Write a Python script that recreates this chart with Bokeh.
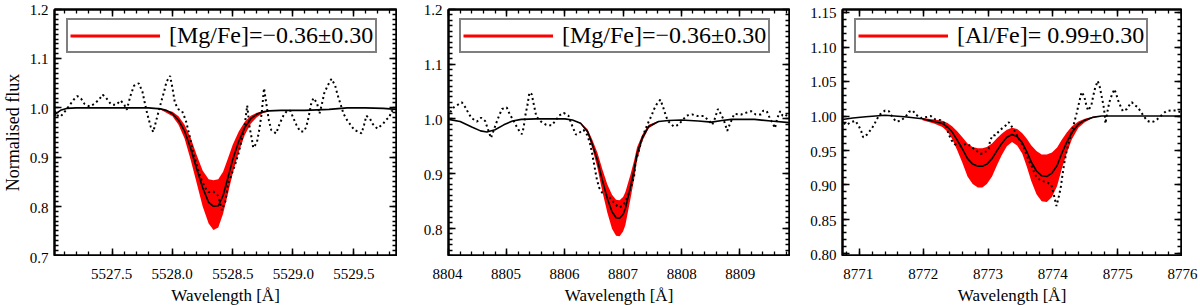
import numpy as np
from bokeh.plotting import figure
from bokeh.models import (Range1d, FixedTicker, LinearAxis, Spacer,
                          Legend, LegendItem, CustomJSTickFormatter)
from bokeh.layouts import row, column
from bokeh.embed import file_html
from bokeh.resources import INLINE
from bokeh.core.properties import value

FONT = "Liberation Serif"

# ---------------- Panel 1 : Mg 5528 ----------------
m1_wl = [5527.00, 5527.03, 5527.07, 5527.12, 5527.20, 5527.50, 5527.80, 5527.90, 5527.95, 5528.00,
         5528.05, 5528.10, 5528.15, 5528.20, 5528.25, 5528.30, 5528.34, 5528.38, 5528.42, 5528.46,
         5528.50, 5528.55, 5528.60, 5528.65, 5528.70, 5528.75, 5528.80, 5528.90, 5529.10, 5529.30,
         5529.45, 5529.60, 5529.75, 5529.86]
m1_fx = [0.975, 0.988, 0.995, 0.999, 1.000, 1.000, 1.000, 0.998, 0.995, 0.988,
         0.975, 0.953, 0.918, 0.877, 0.838, 0.808, 0.800, 0.801, 0.822, 0.858,
         0.895, 0.932, 0.960, 0.978, 0.987, 0.992, 0.994, 0.995, 0.995, 0.997,
         1.000, 1.000, 0.999, 0.997]
b1_wl = [5527.90, 5528.00, 5528.05, 5528.10, 5528.15, 5528.20, 5528.25, 5528.30, 5528.34, 5528.38,
         5528.42, 5528.46, 5528.50, 5528.55, 5528.60, 5528.65, 5528.70, 5528.75, 5528.80]
b1_hi = [0.999, 0.992, 0.983, 0.966, 0.940, 0.905, 0.873, 0.855, 0.853, 0.855,
         0.870, 0.897, 0.925, 0.952, 0.972, 0.984, 0.990, 0.993, 0.994]
b1_lo = [0.997, 0.983, 0.966, 0.938, 0.895, 0.848, 0.800, 0.765, 0.752, 0.757,
         0.785, 0.825, 0.867, 0.910, 0.945, 0.968, 0.981, 0.989, 0.993]
o1_wl = [5527.02, 5527.04, 5527.07, 5527.11, 5527.15, 5527.18, 5527.21, 5527.24, 5527.27, 5527.31,
         5527.35, 5527.39, 5527.42, 5527.45, 5527.49, 5527.53, 5527.57, 5527.60, 5527.62, 5527.65,
         5527.68, 5527.72, 5527.75, 5527.77, 5527.79, 5527.82, 5527.84, 5527.86, 5527.90, 5527.93,
         5527.95, 5527.98, 5528.00, 5528.02, 5528.05, 5528.08, 5528.11, 5528.14, 5528.17, 5528.20,
         5528.23, 5528.27, 5528.30, 5528.34, 5528.38, 5528.41, 5528.44, 5528.46, 5528.49, 5528.52,
         5528.55, 5528.58, 5528.60, 5528.62, 5528.64, 5528.66, 5528.67, 5528.70, 5528.72, 5528.74,
         5528.76, 5528.78, 5528.80, 5528.82, 5528.86, 5528.89, 5528.92, 5528.95, 5528.98, 5529.00,
         5529.03, 5529.06, 5529.09, 5529.11, 5529.13, 5529.15, 5529.17, 5529.20, 5529.22, 5529.24,
         5529.26, 5529.29, 5529.32, 5529.35, 5529.37, 5529.40, 5529.42, 5529.45, 5529.48, 5529.51,
         5529.54, 5529.57, 5529.59, 5529.61, 5529.64, 5529.66, 5529.70, 5529.75, 5529.77, 5529.80,
         5529.82, 5529.86]
o1_fx = [0.994, 0.985, 0.982, 0.994, 1.007, 1.017, 1.024, 1.019, 1.008, 1.003,
         1.008, 1.017, 1.027, 1.020, 1.007, 1.006, 1.015, 1.006, 0.996, 1.024,
         1.045, 1.050, 1.033, 1.010, 0.988, 0.961, 0.951, 0.970, 1.007, 1.033,
         1.053, 1.065, 1.040, 1.010, 0.997, 0.993, 0.975, 0.945, 0.912, 0.885,
         0.860, 0.838, 0.829, 0.830, 0.821, 0.792, 0.811, 0.844, 0.864, 0.885,
         0.909, 0.942, 0.965, 1.005, 0.961, 0.935, 0.919, 0.929, 0.955, 0.988,
         1.040, 1.007, 0.975, 0.955, 0.948, 0.968, 0.984, 0.994, 0.994, 0.981,
         0.965, 0.952, 0.952, 0.961, 0.981, 1.007, 1.020, 1.010, 0.988, 1.007,
         1.030, 1.046, 1.059, 1.046, 1.027, 1.004, 0.988, 0.975, 0.965, 0.955,
         0.952, 0.948, 0.965, 0.984, 0.978, 0.968, 0.958, 0.968, 0.975, 0.981,
         0.994, 0.990]

# ---------------- Panel 2 : Mg 8807 ----------------
m2_wl = [8804.00, 8804.20, 8804.40, 8804.55, 8804.66, 8804.80, 8804.95, 8805.10, 8805.25, 8805.50,
         8805.80, 8806.00, 8806.13, 8806.27, 8806.39, 8806.47, 8806.56, 8806.64, 8806.73, 8806.81,
         8806.88, 8806.94, 8807.00, 8807.04, 8807.13, 8807.19, 8807.24, 8807.33, 8807.44, 8807.61,
         8807.78, 8808.00, 8808.29, 8808.52, 8808.70, 8808.86, 8809.26, 8809.54, 8809.86]
m2_fx = [0.999, 0.995, 0.985, 0.978, 0.976, 0.980, 0.989, 0.996, 0.999, 1.000,
         1.000, 1.000, 0.998, 0.992, 0.977, 0.954, 0.924, 0.889, 0.854, 0.830,
         0.819, 0.818, 0.825, 0.836, 0.877, 0.907, 0.936, 0.965, 0.986, 0.995,
         0.997, 0.998, 0.996, 0.994, 0.997, 0.999, 0.999, 0.996, 0.993]
b2_wl = [8806.13, 8806.27, 8806.39, 8806.47, 8806.56, 8806.64, 8806.73, 8806.81, 8806.88, 8806.94,
         8807.00, 8807.04, 8807.13, 8807.19, 8807.24, 8807.33, 8807.44, 8807.61]
b2_hi = [0.998, 0.993, 0.981, 0.962, 0.938, 0.909, 0.880, 0.861, 0.852, 0.851,
         0.857, 0.866, 0.899, 0.924, 0.948, 0.971, 0.989, 0.996]
b2_lo = [0.998, 0.991, 0.973, 0.946, 0.910, 0.869, 0.828, 0.799, 0.786, 0.785,
         0.794, 0.806, 0.855, 0.890, 0.924, 0.959, 0.983, 0.994]
o2_wl = [8804.03, 8804.09, 8804.18, 8804.23, 8804.29, 8804.35, 8804.40, 8804.49, 8804.56, 8804.63,
         8804.69, 8804.73, 8804.79, 8804.83, 8804.87, 8804.92, 8805.00, 8805.05, 8805.11, 8805.17,
         8805.22, 8805.26, 8805.29, 8805.32, 8805.36, 8805.39, 8805.43, 8805.47, 8805.51, 8805.59,
         8805.68, 8805.77, 8805.85, 8805.90, 8805.98, 8806.06, 8806.13, 8806.19, 8806.24, 8806.32,
         8806.38, 8806.43, 8806.47, 8806.51, 8806.55, 8806.59, 8806.64, 8806.70, 8806.76, 8806.81,
         8806.86, 8806.92, 8806.98, 8807.04, 8807.10, 8807.15, 8807.19, 8807.21, 8807.27, 8807.33,
         8807.38, 8807.44, 8807.49, 8807.53, 8807.58, 8807.64, 8807.68, 8807.71, 8807.74, 8807.78,
         8807.87, 8807.95, 8808.09, 8808.19, 8808.29, 8808.39, 8808.49, 8808.53, 8808.57, 8808.63,
         8808.68, 8808.73, 8808.79, 8808.83, 8808.91, 8809.03, 8809.11, 8809.20, 8809.28, 8809.37,
         8809.41, 8809.47, 8809.51, 8809.57, 8809.61, 8809.65, 8809.70, 8809.74, 8809.78, 8809.84]
o2_fx = [1.012, 1.021, 1.027, 1.030, 1.021, 1.009, 1.001, 0.995, 1.002, 0.996,
         0.977, 0.965, 0.983, 0.995, 1.006, 1.018, 1.021, 1.009, 0.998, 0.986,
         0.977, 0.972, 0.983, 1.006, 1.027, 1.048, 1.045, 1.024, 1.004, 0.995,
         0.989, 0.988, 0.998, 1.006, 1.011, 1.006, 0.986, 0.971, 0.974, 0.980,
         0.971, 0.956, 0.936, 0.912, 0.889, 0.874, 0.865, 0.862, 0.857, 0.851,
         0.845, 0.838, 0.840, 0.848, 0.865, 0.880, 0.895, 0.918, 0.942, 0.965,
         0.980, 0.995, 1.006, 1.017, 1.027, 1.035, 1.024, 1.014, 1.004, 0.995,
         0.986, 0.989, 1.006, 1.008, 1.005, 1.005, 0.995, 0.989, 0.998, 1.018,
         1.009, 0.998, 0.978, 0.989, 1.009, 1.008, 1.011, 1.014, 1.008, 1.008,
         1.015, 1.014, 1.004, 0.992, 0.983, 1.001, 1.014, 1.006, 1.004, 1.010]

# ---------------- Panel 3 : Al 8773 ----------------
m3_wl = [8770.74, 8770.90, 8771.10, 8771.40, 8771.70, 8771.98, 8772.16, 8772.29, 8772.37, 8772.44,
         8772.52, 8772.60, 8772.68, 8772.76, 8772.84, 8772.91, 8772.98, 8773.06, 8773.14, 8773.21,
         8773.29, 8773.37, 8773.45, 8773.53, 8773.60, 8773.67, 8773.75, 8773.83, 8773.91, 8773.99,
         8774.07, 8774.14, 8774.22, 8774.30, 8774.40, 8774.50, 8774.62, 8774.76, 8775.00, 8775.50,
         8776.00]
m3_fx = [0.995, 0.997, 0.999, 1.001, 0.999, 0.996, 0.992, 0.989, 0.984, 0.977,
         0.965, 0.952, 0.938, 0.930, 0.927, 0.927, 0.930, 0.938, 0.950, 0.960,
         0.969, 0.973, 0.970, 0.961, 0.948, 0.933, 0.920, 0.913, 0.912, 0.917,
         0.928, 0.945, 0.962, 0.976, 0.988, 0.994, 0.998, 1.000, 1.000, 1.000,
         1.000]
b3_wl = [8771.98, 8772.16, 8772.29, 8772.37, 8772.44, 8772.52, 8772.60, 8772.68, 8772.76, 8772.84,
         8772.91, 8772.98, 8773.06, 8773.14, 8773.21, 8773.29, 8773.37, 8773.45, 8773.53, 8773.60,
         8773.67, 8773.75, 8773.83, 8773.91, 8773.99, 8774.07, 8774.14, 8774.22, 8774.30, 8774.40,
         8774.50, 8774.62, 8774.76]
b3_hi = [0.997, 0.995, 0.993, 0.990, 0.985, 0.978, 0.969, 0.960, 0.955, 0.953,
         0.953, 0.955, 0.960, 0.968, 0.974, 0.980, 0.983, 0.981, 0.975, 0.967,
         0.957, 0.949, 0.944, 0.944, 0.947, 0.954, 0.965, 0.976, 0.985, 0.992,
         0.996, 0.999, 1.000]
b3_lo = [0.994, 0.989, 0.984, 0.977, 0.967, 0.950, 0.932, 0.912, 0.901, 0.896,
         0.896, 0.901, 0.912, 0.929, 0.943, 0.956, 0.962, 0.957, 0.945, 0.926,
         0.905, 0.886, 0.876, 0.875, 0.882, 0.898, 0.922, 0.946, 0.966, 0.983,
         0.991, 0.997, 1.000]
o3_wl = [8770.76, 8770.80, 8770.87, 8770.94, 8770.99, 8771.03, 8771.06, 8771.12, 8771.18, 8771.23,
         8771.27, 8771.32, 8771.40, 8771.46, 8771.51, 8771.57, 8771.64, 8771.72, 8771.77, 8771.83,
         8771.88, 8771.95, 8772.02, 8772.11, 8772.18, 8772.26, 8772.33, 8772.39, 8772.43, 8772.48,
         8772.55, 8772.61, 8772.67, 8772.74, 8772.81, 8772.88, 8772.94, 8773.01, 8773.03, 8773.07,
         8773.11, 8773.19, 8773.27, 8773.32, 8773.40, 8773.47, 8773.55, 8773.60, 8773.63, 8773.68,
         8773.73, 8773.81, 8773.90, 8773.98, 8774.01, 8774.04, 8774.06, 8774.10, 8774.13, 8774.15,
         8774.18, 8774.22, 8774.26, 8774.30, 8774.34, 8774.37, 8774.40, 8774.43, 8774.45, 8774.49,
         8774.52, 8774.55, 8774.60, 8774.63, 8774.66, 8774.70, 8774.73, 8774.76, 8774.79, 8774.81,
         8774.82, 8774.85, 8774.88, 8774.92, 8774.96, 8774.99, 8775.02, 8775.06, 8775.09, 8775.15,
         8775.20, 8775.23, 8775.27, 8775.32, 8775.37, 8775.42, 8775.47, 8775.52, 8775.57, 8775.62,
         8775.69, 8775.76, 8775.84, 8775.92, 8775.97, 8776.00]
o3_fx = [0.990, 0.987, 0.991, 0.993, 0.986, 0.978, 0.969, 0.973, 0.980, 0.987,
         0.995, 1.002, 1.008, 1.007, 0.999, 0.992, 0.993, 0.999, 1.006, 1.008,
         1.002, 0.997, 0.998, 1.000, 0.995, 0.994, 0.989, 0.973, 0.965, 0.959,
         0.957, 0.958, 0.960, 0.955, 0.950, 0.945, 0.946, 0.953, 0.964, 0.972,
         0.972, 0.980, 0.986, 0.991, 0.980, 0.968, 0.955, 0.942, 0.935, 0.926,
         0.914, 0.906, 0.904, 0.900, 0.889, 0.877, 0.869, 0.884, 0.898, 0.912,
         0.931, 0.950, 0.964, 0.978, 0.992, 1.003, 1.015, 1.027, 1.035, 1.029,
         1.017, 1.008, 1.015, 1.029, 1.041, 1.051, 1.043, 1.029, 1.015, 1.001,
         0.989, 1.006, 1.020, 1.031, 1.039, 1.031, 1.022, 1.013, 1.007, 1.010,
         1.017, 1.020, 1.016, 1.013, 1.006, 0.999, 0.993, 0.991, 0.992, 0.995,
         1.001, 1.007, 1.008, 1.008, 1.006, 1.005]

labels = ["[Mg/Fe]=\u22120.36\u00b10.30", "[Mg/Fe]=\u22120.36\u00b10.30", "[Al/Fe]= 0.99\u00b10.30"]
x_title = "Wavelength [\u00c5]"
y_title = "Normalised flux"
x_major = [[5527.5, 5528.0, 5528.5, 5529.0, 5529.5],
           [8804, 8805, 8806, 8807, 8808, 8809],
           [8771, 8772, 8773, 8774, 8775, 8776]]
y_major = [[0.7, 0.8, 0.9, 1.0, 1.1, 1.2],
           [0.8, 0.9, 1.0, 1.1, 1.2],
           [0.80, 0.85, 0.90, 0.95, 1.00, 1.05, 1.10, 1.15]]

FRAME_H = 248
TOP_B = 8
GAP = 9
BOT_B = 49
TICK_PX = "15px"
XTITLE_PX = "17px"
YTITLE_PX = "18px"


def style_axis(ax):
    ax.major_tick_in = 7
    ax.major_tick_out = 0
    ax.minor_tick_in = 4
    ax.minor_tick_out = 0
    ax.major_tick_line_width = 1.5
    ax.minor_tick_line_width = 1.3
    ax.major_tick_line_color = "black"
    ax.minor_tick_line_color = "black"
    ax.axis_line_width = 2
    ax.axis_line_color = "black"
    ax.formatter = CustomJSTickFormatter(code="return ''")
    ax.major_label_text_font_size = "1px"
    ax.major_label_standoff = 0
    ax.axis_label = None


def strip(w, h, xr, yr):
    s = figure(width=w, height=h, x_range=Range1d(*xr), y_range=Range1d(*yr),
               output_backend="svg", toolbar_location=None,
               x_axis_location=None, y_axis_location=None, min_border=0)
    s.grid.visible = False
    s.outline_line_color = None
    s.background_fill_color = "white"
    s.border_fill_color = "white"
    return s


def put_text(s, xs, ys, texts, align, baseline, size, angle=0.0):
    s.text(x=xs, y=ys, text=texts, text_font=value(FONT), text_font_size=value(size),
           text_color="black", text_align=align, text_baseline=baseline, angle=angle)


def make_panel(m_wl, m_fx, b_wl, b_lo, b_hi, o_wl, o_fx, xr, yr, xt, xminor, yt, yminor,
               xfmt, yfmt, label, bl, br, fw, ylabel, leg_x):
    x0, x1 = xr
    y0, y1 = yr
    dx = (x1 - x0) / fw
    dy = (y1 - y0) / FRAME_H

    # ---- main plot box ----
    p = figure(width=fw, height=FRAME_H,
               x_range=Range1d(x0, x1), y_range=Range1d(y0, y1),
               output_backend="svg", toolbar_location=None, min_border=1)
    p.xgrid.visible = False
    p.ygrid.visible = False
    p.outline_line_color = "black"
    p.outline_line_width = 2
    p.background_fill_color = "white"
    p.border_fill_color = "white"

    p.varea(x=b_wl, y1=b_lo, y2=b_hi, fill_color="#ff0000", fill_alpha=1.0)
    p.line(o_wl, o_fx, line_color="black", line_width=2, line_dash="2 3")
    p.line(m_wl, m_fx, line_color="black", line_width=1.6)
    leg_r = p.line(x=[np.nan], y=[np.nan], line_color="#ff0000", line_width=3)

    xtick = FixedTicker(ticks=xt, minor_ticks=list(xminor))
    ytick = FixedTicker(ticks=yt, minor_ticks=list(yminor))
    p.xaxis.ticker = xtick
    p.yaxis.ticker = ytick
    style_axis(p.xaxis[0])
    style_axis(p.yaxis[0])
    top = LinearAxis(ticker=xtick)
    right = LinearAxis(ticker=ytick)
    style_axis(top)
    style_axis(right)
    p.add_layout(top, "above")
    p.add_layout(right, "right")

    leg = Legend(items=[LegendItem(label=value(label), renderers=[leg_r])],
                 location=(leg_x, FRAME_H - 15 - 31))
    leg.label_text_font = FONT
    leg.label_text_font_size = "24px"
    leg.label_text_color = "black"
    leg.label_height = 21
    leg.glyph_height = 21
    leg.glyph_width = 90
    leg.label_standoff = 9
    leg.padding = 2
    leg.spacing = 0
    leg.margin = 0
    leg.border_line_color = "black"
    leg.border_line_width = 2
    leg.background_fill_color = "white"
    leg.background_fill_alpha = 1.0
    p.add_layout(leg)

    # ---- label strips sharing the plot's scales ----
    upper_h = TOP_B + FRAME_H + GAP
    left = strip(bl, upper_h, (x0 - bl * dx, x0), (y0 - GAP * dy, y1 + TOP_B * dy))
    put_text(left, [x0 - 5 * dx] * len(yt), [t - 1 * dy for t in yt],
             [yfmt % t for t in yt], "right", "middle", TICK_PX)
    if ylabel:
        put_text(left, [x0 - 41 * dx], [(y0 + y1) / 2], [ylabel], "center", "middle",
                 YTITLE_PX, angle=np.pi / 2)

    mid = column(Spacer(width=fw, height=TOP_B), p, Spacer(width=fw, height=GAP))
    upper = row(left, mid, Spacer(width=br, height=upper_h))

    bottom = strip(bl + fw + br, BOT_B - GAP, (x0 - bl * dx, x1 + br * dx),
                   (y0 - BOT_B * dy, y0 - GAP * dy))
    put_text(bottom, list(xt), [y0 - 12 * dy] * len(xt), [xfmt % t for t in xt],
             "center", "top", TICK_PX)
    put_text(bottom, [(x0 + x1) / 2], [y0 - 29 * dy], [x_title], "center", "top",
             XTITLE_PX)
    return column(upper, bottom)


P1 = make_panel(m1_wl, m1_fx, b1_wl, b1_lo, b1_hi, o1_wl, o1_fx,
                (5527.02, 5529.86), (0.7, 1.2), x_major[0], np.arange(5527.1, 5529.86, 0.1),
                y_major[0], np.arange(0.70, 1.2001, 0.01), "%.1f", "%.1f", labels[0],
                53, 6, 344, y_title, 12)
P2 = make_panel(m2_wl, m2_fx, b2_wl, b2_lo, b2_hi, o2_wl, o2_fx,
                (8804.0, 8809.86), (0.75, 1.2), x_major[1], np.arange(8804.0, 8809.9, 0.2),
                y_major[1], np.arange(0.75, 1.2001, 0.01), "%d", "%.1f", labels[1],
                44, 7, 343, None, 11)
P3 = make_panel(m3_wl, m3_fx, b3_wl, b3_lo, b3_hi, o3_wl, o3_fx,
                (8770.74, 8776.0), (0.797, 1.155), x_major[2], np.arange(8770.8, 8776.01, 0.2),
                y_major[2], np.arange(0.80, 1.155, 0.01), "%d", "%.2f", labels[2],
                44, 18, 341, None, 12)

layout = row(P1, P2, P3)
open("out.html", "w").write(file_html(layout, INLINE))
